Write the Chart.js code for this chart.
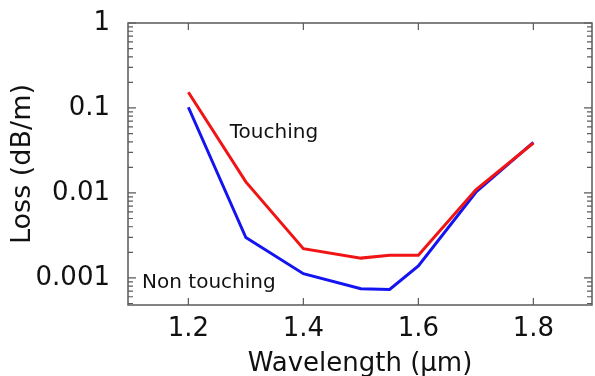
<!DOCTYPE html>
<html>
<head>
<meta charset="utf-8">
<script src="https://cdn.jsdelivr.net/npm/chart.js@4/dist/chart.umd.min.js"></script>
<style>
  html, body { margin: 0; padding: 0; background: #fff; }
  #wrap { width: 595px; height: 376px; }
</style>
</head>
<body>
<div id="wrap"><canvas id="c"></canvas></div>
<script>
// wavelength (um) and loss (dB/m)
var wavelength = [1.2, 1.3, 1.4, 1.5, 1.55, 1.6, 1.7, 1.8];
var touching    = [0.153, 0.0135, 0.00221, 0.00171, 0.00185, 0.00185, 0.0109, 0.0387];
var nonTouching = [0.102, 0.00299, 0.00112, 0.000745, 0.00073, 0.00138, 0.0102, 0.0394];

var xTicks = [1.2, 1.4, 1.6, 1.8];
var yTicks = [0.001, 0.01, 0.1, 1];
var yTickLabels = ['0.001', '0.01', '0.1', '1'];

// text labels placed in data coordinates
var curveLabels = [
  {text: 'Touching', x: 1.272, y: 0.051},
  {text: 'Non touching', x: 1.1195, y: 0.000885}
];

var FONT = '"DejaVu Sans", sans-serif';

function toPoints(xs, ys) {
  var pts = [];
  for (var i = 0; i < xs.length; i++) pts.push({x: xs[i], y: ys[i]});
  return pts;
}

// frame, inward ticks (major + log minor) and the curve labels
var framePlugin = {
  id: 'frame',
  afterDatasetsDraw: function(chart) {
    var ctx = chart.ctx;
    var a = chart.chartArea;
    var xs = chart.scales.x, ys = chart.scales.y;
    ctx.save();
    ctx.strokeStyle = '#5a5a5a';
    ctx.lineWidth = 1.5;
    ctx.strokeRect(a.left, a.top, a.right - a.left, a.bottom - a.top);
    ctx.lineWidth = 1.2;
    ctx.beginPath();
    xTicks.forEach(function(v) {
      var px = xs.getPixelForValue(v);
      ctx.moveTo(px, a.bottom); ctx.lineTo(px, a.bottom - 7);
      ctx.moveTo(px, a.top); ctx.lineTo(px, a.top + 7);
    });
    for (var d = -4; d <= 0; d++) {
      for (var m = 1; m <= 9; m++) {
        var v = m * Math.pow(10, d);
        if (v < ys.min || v > ys.max) continue;
        var py = ys.getPixelForValue(v);
        var len = m === 1 ? 8 : 5;
        ctx.moveTo(a.left, py); ctx.lineTo(a.left + len, py);
        ctx.moveTo(a.right, py); ctx.lineTo(a.right - len, py);
      }
    }
    ctx.stroke();

    ctx.fillStyle = '#111';
    ctx.font = '20px ' + FONT;
    ctx.textAlign = 'left';
    ctx.textBaseline = 'middle';
    curveLabels.forEach(function(l) {
      ctx.fillText(l.text, xs.getPixelForValue(l.x), ys.getPixelForValue(l.y));
    });
    ctx.restore();
  }
};

new Chart(document.getElementById('c'), {
  type: 'line',
  data: {
    datasets: [
      {
        label: 'Touching',
        data: toPoints(wavelength, touching),
        borderColor: '#f01414',
        borderWidth: 3,
        pointRadius: 0,
        tension: 0
      },
      {
        label: 'Non touching',
        data: toPoints(wavelength, nonTouching),
        borderColor: '#1414f0',
        borderWidth: 3,
        pointRadius: 0,
        tension: 0
      }
    ]
  },
  options: {
    responsive: true,
    maintainAspectRatio: false,
    animation: false,
    layout: {padding: {top: 23, right: 3, left: 0, bottom: 0}},
    plugins: {legend: {display: false}, tooltip: {enabled: false}},
    scales: {
      x: {
        type: 'linear',
        min: 1.095,
        max: 1.902,
        afterBuildTicks: function(s) {
          s.ticks = xTicks.map(function(v) { return {value: v}; });
        },
        afterFit: function(s) {
          s.height = 71;
          s.paddingLeft = 0; s.paddingRight = 0;
        },
        grid: {display: false, drawTicks: false},
        border: {display: false},
        ticks: {
          color: '#111',
          font: {family: FONT, size: 26},
          padding: 9,
          maxRotation: 0,
          callback: function(v) { return v.toFixed(1); }
        },
        title: {
          display: true,
          text: 'Wavelength (\u03bcm)',
          color: '#111',
          font: {family: FONT, size: 26},
          padding: {top: 0, bottom: -4}
        }
      },
      y: {
        type: 'logarithmic',
        min: 0.00048,
        max: 1,
        afterBuildTicks: function(s) {
          s.ticks = yTicks.map(function(v) { return {value: v}; });
        },
        afterFit: function(s) {
          s.width = 128;
          s.paddingTop = 0; s.paddingBottom = 0;
        },
        grid: {display: false, drawTicks: false},
        border: {display: false},
        ticks: {
          color: '#111',
          font: {family: FONT, size: 26},
          padding: 18,
          callback: function(v) {
            var i = yTicks.indexOf(v);
            return i >= 0 ? yTickLabels[i] : '';
          }
        },
        title: {
          display: true,
          text: 'Loss (dB/m)',
          color: '#111',
          font: {family: FONT, size: 27},
          padding: {top: 7, bottom: 0}
        }
      }
    }
  },
  plugins: [framePlugin]
});
</script>
</body>
</html>
